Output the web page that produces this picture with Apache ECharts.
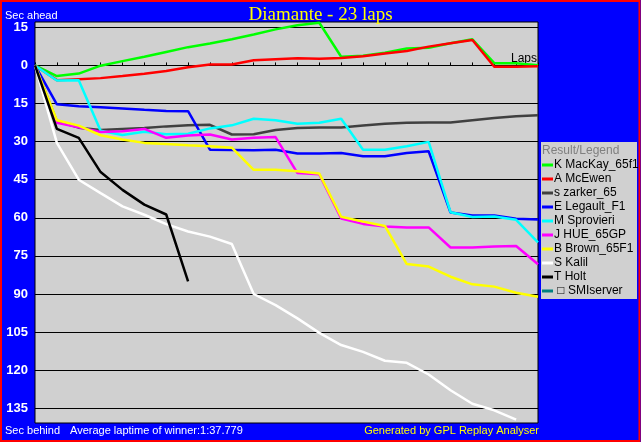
<!DOCTYPE html>
<html>
<head>
<meta charset="utf-8">
<script src="https://cdn.jsdelivr.net/npm/echarts@6/dist/echarts.min.js"></script>
<style>
html,body{margin:0;padding:0;background:#0000ff;}
#chart{width:641px;height:442px;}
</style>
</head>
<body>
<div id="chart"></div>
<script>
// ---- data (seconds behind the leader reference; negative = ahead) ----
var laps = [0,1,2,3,4,5,6,7,8,9,10,11,12,13,14,15,16,17,18,19,20,21,22,23];
var yTicks = [-15,0,15,30,45,60,75,90,105,120,135];

var names = ['K MacKay_65f1','A McEwen','s zarker_65','E Legault_F1','M Sprovieri','J HUE_65GP','B Brown_65F1','S Kalil','T Holt',' \u25A1 SMIserver'];
var colors = ['#00ff00','#ff0000','#404040','#0000ff','#00ffff','#ff00ff','#ffff00','#ffffff','#000000','#008080'];

var mackay    = [0,4.2,3.2,0.1,-1.7,-3.4,-5.3,-7.2,-8.6,-10.3,-12.2,-14.2,-15.8,-16.8,-3.4,-3.8,-5.0,-6.7,-7.0,-8.7,-10.3,-0.9,-0.9,-0.1];
var mcewen    = [0,5.8,5.4,5.0,4.2,3.3,2.2,0.7,-0.4,-0.4,-2.0,-2.4,-2.8,-2.6,-2.9,-3.6,-4.7,-5.7,-7.4,-8.7,-10.0,0.5,0.5,0.3];
var zarker    = [0,22.0,24.5,25.4,25.0,24.6,24.0,23.6,23.4,27.2,27.1,25.4,24.6,24.4,24.4,23.7,23.0,22.6,22.5,22.5,21.6,20.7,20.0,19.6];
var legault   = [0,15.3,16.1,16.5,17.0,17.5,17.9,18.0,33.2,33.3,33.4,33.2,34.7,34.7,34.5,35.8,35.8,34.5,33.8,57.9,59.1,59.1,60.4,60.7];
var sprovieri = [0,5.9,5.8,25.7,27.4,26.1,27.1,26.9,24.8,23.6,21.0,21.6,23.0,22.6,21.0,33.2,33.2,31.8,30.1,57.8,59.7,59.5,60.8,69.7];
var hue       = [0,22.6,24.4,26.2,25.9,25.0,28.5,27.6,27.2,29.2,28.5,28.2,42.4,42.9,60.3,62.4,63.4,63.8,63.8,71.7,71.7,71.3,71.1,78.3];
var brown     = [0,21.6,23.7,27.5,29.2,30.5,30.9,31.4,31.8,32.4,41.1,41.1,41.7,42.6,59.6,61.5,63.2,78.2,79.2,83.2,86.2,87.1,89.5,91.1];
var kalil     = [0,30.5,45.0,50.3,55.5,58.8,62.5,65.4,67.4,70.3,90.0,94.4,99.6,105.3,110.1,112.8,116.3,117.1,121.7,127.9,133.2,135.8,139.5];
var holt      = [0,25.0,28.5,42.0,49.0,54.8,58.7,85.0];
var smiserver = [];

var seriesData = [mackay, mcewen, zarker, legault, sprovieri, hue, brown, kalil, holt, smiserver];

var chart = echarts.init(document.getElementById('chart'));
var FONT = 'Liberation Sans';

var series = names.map(function (n, i) {
  return {
    name: n,
    type: 'line',
    data: seriesData[i],
    showSymbol: false,
    symbol: 'none',
    color: colors[i],
    lineStyle: { width: 2.5, color: colors[i] },
    z: 2 + i,
    animation: false
  };
});

chart.setOption({
  backgroundColor: '#0000ff',
  animation: false,
  title: {
    text: 'Diamante - 23 laps',
    left: 'center',
    top: 1,
    textStyle: { color: '#ffff00', fontFamily: 'Liberation Serif', fontSize: 19, fontWeight: 'normal' }
  },
  grid: {
    left: 35, top: 22, right: 103, bottom: 19,
    show: true, backgroundColor: '#d0d0d0', borderColor: '#000000', borderWidth: 1
  },
  xAxis: {
    type: 'category',
    data: laps,
    boundaryGap: false,
    name: 'Laps',
    nameLocation: 'end',
    nameGap: -1,
    nameTextStyle: { color: '#000000', fontFamily: FONT, fontSize: 12, align: 'right', verticalAlign: 'bottom', padding: [0, 0, 1, 0] },
    axisLine: { onZero: true, lineStyle: { color: '#000000', width: 1 } },
    axisTick: { inside: true, length: 3, lineStyle: { color: '#000000' } },
    axisLabel: { show: false },
    splitLine: { show: false }
  },
  yAxis: {
    type: 'value',
    inverse: true,
    min: -17.1,
    max: 140.8,
    axisLine: { show: false },
    axisTick: { show: false, customValues: yTicks },
    axisLabel: {
      customValues: yTicks,
      color: '#ffffff', fontFamily: FONT, fontSize: 13, fontWeight: 'bold', margin: 7,
      formatter: function (v) { return String(Math.abs(v)); }
    },
    splitLine: { show: true, lineStyle: { color: '#000000', width: 1 } }
  },
  legend: {
    orient: 'vertical',
    left: 542,
    top: 158,
    padding: 0,
    itemGap: 0,
    itemWidth: 11,
    itemHeight: 3,
    icon: 'rect',
    data: names,
    textStyle: { color: '#000000', fontFamily: FONT, fontSize: 12, lineHeight: 14, padding: [0, 0, 0, -4] }
  },
  graphic: [
    { type: 'rect', shape: { x: 541, y: 142, width: 96, height: 157 }, style: { fill: '#d0d0d0' }, z: 0 },
    { type: 'text', x: 542, y: 151, style: { text: 'Result/Legend', fill: '#808080', font: '12px "Liberation Sans"', verticalAlign: 'middle' }, z: 1 },
    { type: 'text', x: 5, y: 16, style: { text: 'Sec ahead', fill: '#ffffff', font: '11px "Liberation Sans"', verticalAlign: 'middle' } },
    { type: 'text', x: 5, y: 431, style: { text: 'Sec behind', fill: '#ffffff', font: '11px "Liberation Sans"', verticalAlign: 'middle' } },
    { type: 'text', x: 70, y: 431, style: { text: 'Average laptime of winner:1:37.779', fill: '#ffffff', font: '11px "Liberation Sans"', verticalAlign: 'middle' } },
    { type: 'text', x: 539, y: 431, style: { text: 'Generated by GPL Replay Analyser', fill: '#ffff00', font: '11px "Liberation Sans"', align: 'right', verticalAlign: 'middle' } },
    { type: 'rect', shape: { x: 1, y: 1, width: 638.5, height: 440 }, style: { fill: 'none', stroke: '#ff0000', lineWidth: 2 }, z: 100 }
  ],
  series: series
});
</script>
</body>
</html>
